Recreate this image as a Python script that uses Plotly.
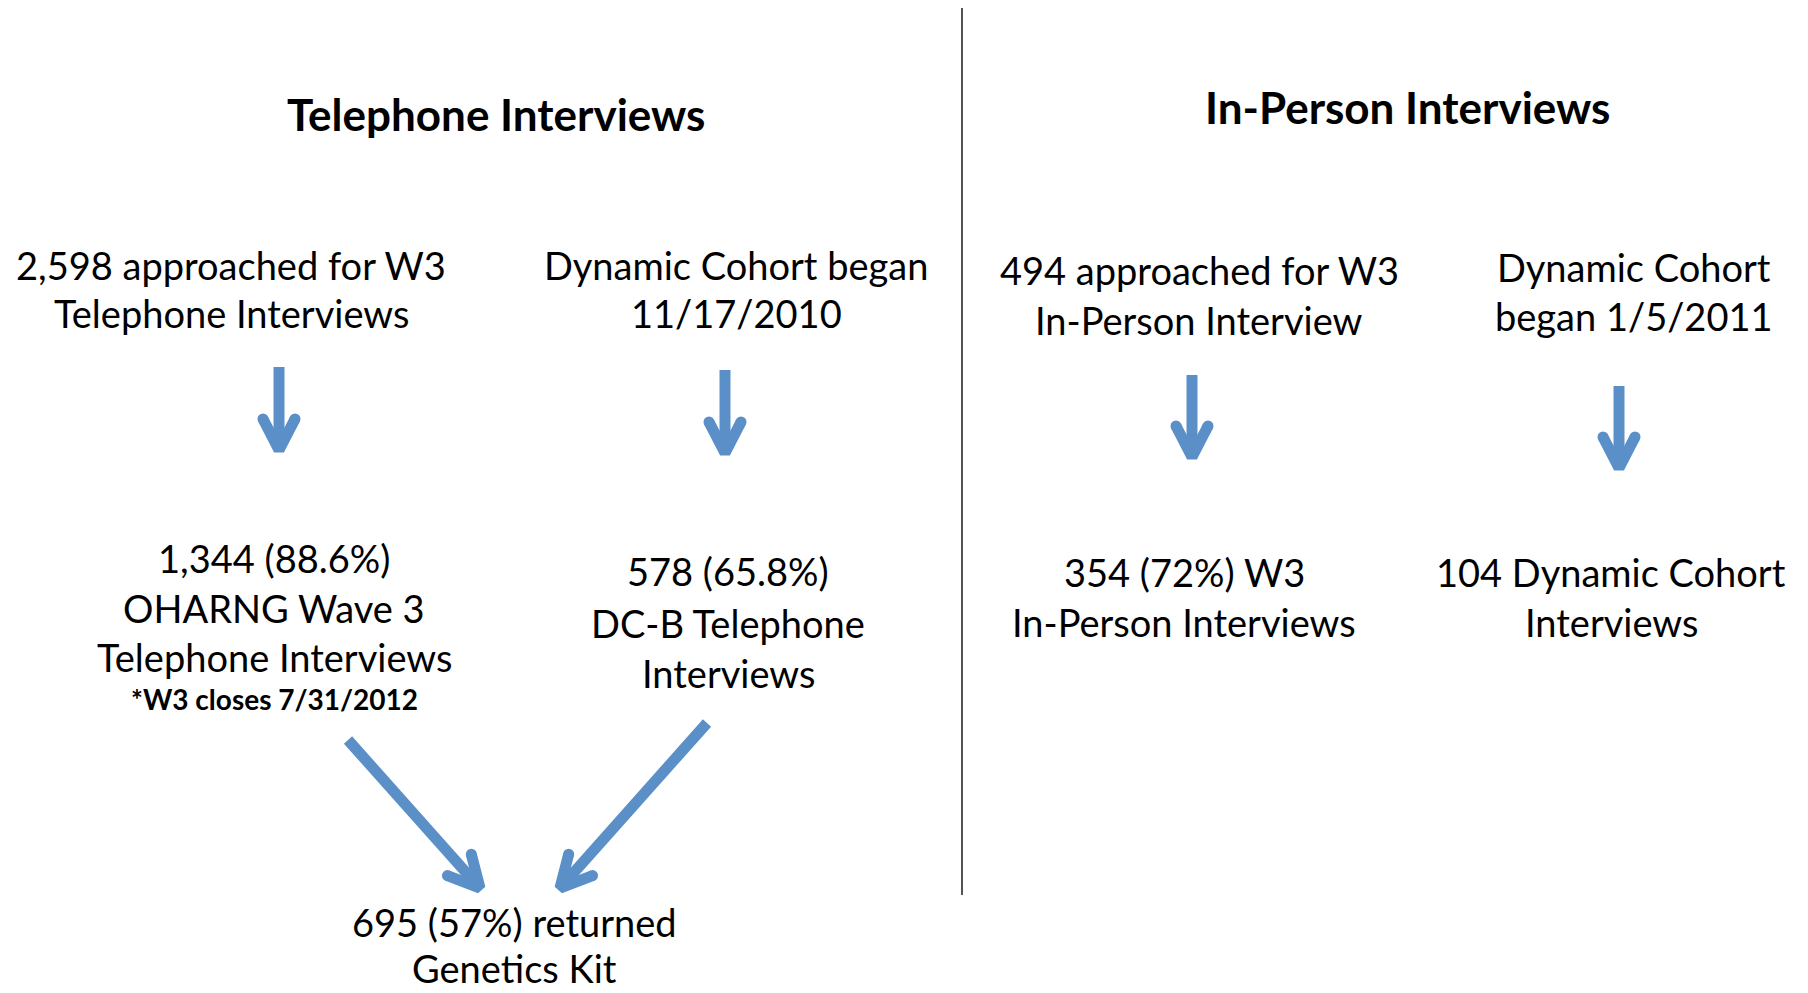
import numpy as np
import plotly.graph_objects as go

# ---------------- data (texts of the flow diagram) ----------------
section_titles = ["Telephone Interviews", "In-Person Interviews"]

node_lines = [
    ["2,598 approached for W3", "Telephone Interviews"],
    ["Dynamic Cohort began", "11/17/2010"],
    ["1,344 (88.6%)", "OHARNG Wave 3", "Telephone Interviews"],
    ["578 (65.8%)", "DC-B Telephone", "Interviews"],
    ["695 (57%) returned", "Genetics Kit"],
    ["494 approached for W3", "In-Person Interview"],
    ["Dynamic Cohort", "began 1/5/2011"],
    ["354 (72%) W3", "In-Person Interviews"],
    ["104 Dynamic Cohort", "Interviews"],
]
note_text = "*W3 closes 7/31/2012"

# flow links: (from node, to node)
links = [(0, 2), (1, 3), (2, 4), (3, 4), (5, 7), (6, 8)]

# ---------------- layout (pixel positions on the 1808x993 window) ----------------
W, H = 1808, 993
PAGE_MARGIN = 8  # default body margin of the html page
title_pos = [(496, 114), (1407, 107)]
node_x = [231, 736, 274, 728, 514, 1199, 1634, 1184, 1611]
node_ys = [
    [265, 313],
    [265, 313],
    [558, 608, 657],
    [571, 623, 673],
    [922, 968],
    [270, 320],
    [267, 316],
    [572, 622],
    [572, 622],
]
note_pos = (274, 699)
link_geom = [
    ((279, 367), (279, 462)),
    ((725, 370), (725, 465)),
    ((348, 740), (488, 897)),
    ((707, 723), (552, 897)),
    ((1192, 375), (1192, 469)),
    ((1619, 386), (1619, 480)),
]
divider = ((962, 8), (962, 895))

FONT = "Lato"
BODY_SIZE = 38
TITLE_SIZE = 44
NOTE_SIZE = 28
ARROW_COLOR = "#5B8FC8"
ARROW_W = 11

fig = go.Figure()

# arrows
for (tail, tip) in link_geom:
    tail = np.array(tail, float)
    tip = np.array(tip, float)
    d = tip - tail
    d /= np.linalg.norm(d)
    n = np.array([-d[1], d[0]])
    vertex = tip - 12 * d
    wl = vertex - 31 * d + 16 * n
    wr = vertex - 31 * d - 16 * n
    fig.add_trace(go.Scatter(x=[tail[0], vertex[0]], y=[tail[1], vertex[1]], mode="lines",
                             line=dict(color=ARROW_COLOR, width=ARROW_W),
                             hoverinfo="skip", showlegend=False))
    fig.add_trace(go.Scatter(x=[wl[0], vertex[0], wr[0]], y=[wl[1], vertex[1], wr[1]], mode="lines",
                             line=dict(color=ARROW_COLOR, width=ARROW_W),
                             hoverinfo="skip", showlegend=False))
    fig.add_trace(go.Scatter(x=[wl[0], wr[0]], y=[wl[1], wr[1]], mode="markers",
                             marker=dict(color=ARROW_COLOR, size=ARROW_W, line=dict(width=0)),
                             hoverinfo="skip", showlegend=False))

annotations = []
for t, (x, y) in zip(section_titles, title_pos):
    annotations.append(dict(x=x, y=y, text="<b>" + t + "</b>", showarrow=False,
                            xanchor="center", yanchor="middle",
                            font=dict(family=FONT, size=TITLE_SIZE, color="black")))
for lines, x, ys in zip(node_lines, node_x, node_ys):
    for t, y in zip(lines, ys):
        annotations.append(dict(x=x, y=y, text=t, showarrow=False,
                                xanchor="center", yanchor="middle",
                                font=dict(family=FONT, size=BODY_SIZE, color="black")))
annotations.append(dict(x=note_pos[0], y=note_pos[1], text="<b>" + note_text + "</b>", showarrow=False,
                        xanchor="center", yanchor="middle",
                        font=dict(family=FONT, size=NOTE_SIZE, color="black")))

fig.update_layout(
    width=W - 2 * PAGE_MARGIN, height=H - 2 * PAGE_MARGIN,
    margin=dict(l=0, r=0, t=0, b=0),
    paper_bgcolor="white", plot_bgcolor="white",
    xaxis=dict(range=[PAGE_MARGIN, W - PAGE_MARGIN], visible=False, fixedrange=True),
    yaxis=dict(range=[H - PAGE_MARGIN, PAGE_MARGIN], visible=False, fixedrange=True),
    annotations=annotations,
    shapes=[dict(type="line", x0=divider[0][0], y0=divider[0][1], x1=divider[1][0], y1=divider[1][1],
                 line=dict(color="#1a1a1a", width=1.5))],
    showlegend=False,
)

fig.write_html("out.html")
